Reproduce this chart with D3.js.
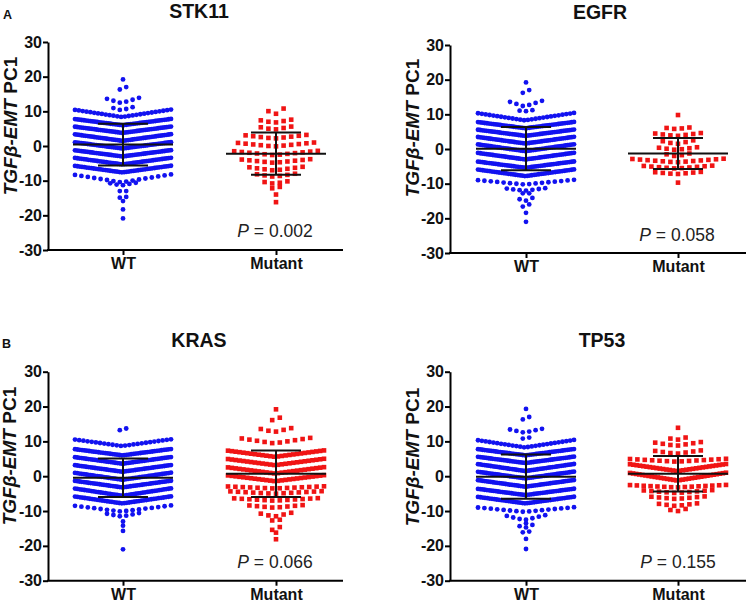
<!DOCTYPE html>
<html><head><meta charset="utf-8">
<script src="https://cdn.jsdelivr.net/npm/d3@7"></script>
<style>body{margin:0;background:#fff}svg{display:block}text{font-family:"Liberation Sans",Arial,sans-serif}</style>
</head><body><svg id="c" width="755" height="602"></svg>
<script>
// ---------- data ----------
const genes = ["STK11", "EGFR", "KRAS", "TP53"];
const groups = ["WT", "Mutant"];
const pValues = ["0.002", "0.058", "0.066", "0.155"];
const yTicks = [-30, -20, -10, 0, 10, 20, 30];
const panelLetters = ["A", "", "B", ""];
// mean and SD per gene: [WT, Mutant]
const means = [[0.4, -2.2], [0.1, -1.3], [-0.45, 0.7], [-0.15, 0.7]];
const sds = [[6.0, 6.1], [6.25, 4.5], [5.55, 6.7], [6.35, 5.1]];
// binned scatter rows: [lowest value (row centre), highest value (row edge), number of points]
const stk11WT = [[19.2,19.2,1],[16.3,17.0,2],[12.5,13.9,6],[10.4,11.2,4],[8.4,10.5,26],[6.0,7.8,44],[3.8,5.6,46],[1.5,3.4,46],[-0.7,1.1,46],[-3.0,-1.2,46],[-5.3,-3.4,44],[-7.6,-5.7,42],[-10.4,-8.2,16],[-11.3,-10.6,5],[-13.0,-13.0,2],[-14.9,-14.7,2],[-15.9,-15.9,1],[-18.3,-18.3,1],[-20.9,-20.9,1]];
const stk11Mut = [[9.3,10.8,3],[6.8,7.6,5],[4.8,5.6,5],[2.2,3.2,9],[-0.1,1.0,11],[-2.6,-1.4,12],[-4.8,-3.8,10],[-7.0,-6.0,8],[-8.8,-8.0,6],[-10.8,-10.2,4],[-12.2,-11.8,2],[-14.0,-14.0,1],[-16.2,-16.2,1]];
const egfrWT = [[19.2,19.2,1],[16.2,17.0,2],[12.4,13.9,6],[10.9,11.2,3],[8.3,10.4,26],[6.0,7.8,44],[3.8,5.6,46],[1.6,3.5,46],[-0.6,1.35,46],[-3.0,-1.1,46],[-5.4,-3.6,44],[-7.8,-5.9,42],[-10.2,-8.9,16],[-12.0,-11.3,7],[-12.8,-12.8,2],[-14.9,-14.1,3],[-16.6,-16.0,2],[-18.4,-18.4,1],[-21.0,-21.0,1]];
const egfrMut = [[9.8,9.8,1],[5.8,6.2,4],[3.8,4.6,7],[1.5,2.5,5],[-0.2,0.5,6],[-2.0,-1.3,4],[-3.8,-2.8,13],[-5.6,-4.8,10],[-7.2,-6.6,7],[-9.7,-9.7,1]];
const krasWT = [[13.2,13.7,2],[8.7,10.6,24],[6.0,7.8,42],[3.6,5.5,44],[1.3,3.2,44],[-1.0,1.0,44],[-3.2,-1.3,44],[-5.6,-3.5,42],[-7.8,-5.8,40],[-10.1,-8.4,16],[-11.5,-10.6,6],[-13.0,-13.0,1],[-14.2,-14.2,1],[-15.7,-15.7,1],[-21.0,-21.0,1]];
const krasMut = [[19.2,19.2,1],[16.1,16.8,2],[12.8,13.8,5],[9.5,11.0,10],[5.6,7.4,26],[3.2,5.0,26],[0.8,2.6,26],[-1.4,0.3,26],[-3.5,-2.9,14],[-5.0,-4.3,13],[-7.0,-6.3,12],[-9.0,-8.3,8],[-11.5,-10.5,5],[-12.7,-12.5,2],[-15.4,-14.6,2],[-16.2,-16.2,1],[-18.1,-18.1,1]];
const tp53WT = [[19.3,19.3,1],[16.3,17.0,2],[12.6,13.6,6],[10.8,11.1,2],[8.3,10.4,26],[6.0,7.8,44],[3.8,5.6,46],[1.5,3.5,46],[-0.6,1.3,46],[-3.0,-1.1,46],[-5.4,-3.6,44],[-7.8,-5.9,42],[-10.2,-8.9,16],[-12.5,-11.2,7],[-13.5,-13.5,1],[-14.7,-14.0,3],[-16.1,-15.9,2],[-18.0,-18.0,1],[-20.9,-20.9,1]];
const tp53Mut = [[13.9,13.9,1],[10.5,11.1,3],[8.8,9.8,7],[6.5,7.4,7],[4.2,5.0,14],[1.5,3.5,30],[-1.2,1.0,32],[-3.2,-2.5,15],[-4.8,-4.0,10],[-6.5,-5.8,8],[-8.5,-7.8,6],[-10.0,-9.4,3]];
const rowsByGene = [[stk11WT, stk11Mut], [egfrWT, egfrMut], [krasWT, krasMut], [tp53WT, tp53Mut]];

// ---------- layout (positions only) ----------
const layout = [
  {ax:48,  yTop:42,    yBot:250,   xEnd:343, cx:[123,276], title:[199,18],  ylab:[17,126],  p:[275,237], letter:[3,19]},
  {ax:450, yTop:45,    yBot:253,   xEnd:746, cx:[526,678], title:[600,19],  ylab:[419,128], p:[677,241], letter:null},
  {ax:48,  yTop:371.7, yBot:580.7, xEnd:343, cx:[123,276], title:[199,347], ylab:[16,456],  p:[275,568], letter:[2,348]},
  {ax:450, yTop:371.7, yBot:580.7, xEnd:746, cx:[526,678], title:[602,347], ylab:[419,457], p:[678,568], letter:null}
];
const BLUE = "#1212f0", RED = "#f01414";
const svg = d3.select("#c");
svg.append("rect").attr("width",755).attr("height",602).attr("fill","#fff");

function placeRow(row, step, maxHalf) {
  const [lo, hi, n] = row;
  const s = n > 1 ? Math.min(step, 2 * maxHalf / (n - 1)) : 0;
  const pts = [];
  for (let i = 0; i < n; i++) {
    const v = n > 1 ? lo + (hi - lo) * i / (n - 1) : lo;
    let k;
    if (n % 2 === 1) { k = i === 0 ? 0 : Math.ceil(i / 2) * (i % 2 === 1 ? -1 : 1); }
    else { k = (Math.floor(i / 2) + 0.5) * (i % 2 === 0 ? -1 : 1); }
    pts.push({v, dx: k * s});
  }
  return pts;
}

genes.forEach((gene, gi) => {
  const L = layout[gi];
  const g = svg.append("g");
  const y = d3.scaleLinear().domain([-30, 30]).range([L.yBot, L.yTop]);
  const x = d3.scalePoint().domain(groups).range(L.cx);

  // points
  groups.forEach((grp, k) => {
    const isWT = k === 0;
    const pts = rowsByGene[gi][k].flatMap(r => placeRow(r, isWT ? 6.4 : 7.6, 48));
    const cx = x(grp);
    if (isWT) {
      g.append("g").selectAll("circle").data(pts).join("circle")
        .attr("cx", d => cx + d.dx).attr("cy", d => y(d.v)).attr("r", 2.4).attr("fill", BLUE);
    } else {
      g.append("g").selectAll("rect").data(pts).join("rect")
        .attr("x", d => cx + d.dx - 2.3).attr("y", d => y(d.v) - 2.3)
        .attr("width", 4.6).attr("height", 4.6).attr("fill", RED);
    }
    // mean and SD
    const m = means[gi][k], sd = sds[gi][k];
    const bars = g.append("g").attr("stroke", "#111").attr("stroke-width", 2);
    bars.append("line").attr("x1", cx - 50).attr("x2", cx + 50).attr("y1", y(m)).attr("y2", y(m));
    bars.append("line").attr("x1", cx).attr("x2", cx).attr("y1", y(m + sd)).attr("y2", y(m - sd));
    [m + sd, m - sd].forEach(v => bars.append("line").attr("x1", cx - 25).attr("x2", cx + 25).attr("y1", y(v)).attr("y2", y(v)));
  });

  // y axis
  const ya = g.append("g").attr("transform", `translate(${L.ax},0)`)
    .call(d3.axisLeft(y).tickValues(yTicks).tickFormat(d => String(d)).tickSize(5).tickSizeOuter(0).tickPadding(1));
  ya.select(".domain").attr("stroke-width", 2);
  ya.selectAll(".tick line").attr("stroke-width", 2);
  ya.selectAll("text").attr("font-size", 16).attr("font-weight", "bold").attr("fill", "#111")
    .attr("font-family", '"Liberation Sans",Arial,sans-serif');

  // x axis
  g.append("line").attr("x1", L.ax - 1).attr("x2", L.xEnd).attr("y1", L.yBot).attr("y2", L.yBot)
    .attr("stroke", "#000").attr("stroke-width", 2);
  const xa = g.append("g").attr("transform", `translate(0,${L.yBot})`)
    .call(d3.axisBottom(x).tickSize(5).tickPadding(3));
  xa.select(".domain").remove();
  xa.selectAll(".tick line").attr("stroke-width", 2);
  xa.selectAll("text").attr("font-size", 16).attr("font-weight", "bold").attr("fill", "#111")
    .attr("font-family", '"Liberation Sans",Arial,sans-serif');

  // title
  g.append("text").attr("x", L.title[0]).attr("y", L.title[1]).attr("text-anchor", "middle")
    .attr("font-size", 19.5).attr("font-weight", "bold").attr("fill", "#111").text(gene);

  // y label
  const yl = g.append("text").attr("transform", `translate(${L.ylab[0]},${L.ylab[1]}) rotate(-90)`)
    .attr("text-anchor", "middle").attr("font-size", 19).attr("font-weight", "bold").attr("fill", "#111");
  yl.append("tspan").attr("font-style", "italic").text("TGFβ-EMT");
  yl.append("tspan").text(" PC1");

  // p value
  const pt = g.append("text").attr("x", L.p[0]).attr("y", L.p[1]).attr("text-anchor", "middle")
    .attr("font-size", 17.5).attr("fill", "#222");
  pt.append("tspan").attr("font-style", "italic").text("P");
  pt.append("tspan").text(" = " + pValues[gi]);

  if (L.letter && panelLetters[gi]) {
    g.append("text").attr("x", L.letter[0]).attr("y", L.letter[1]).attr("font-size", 12.5)
      .attr("font-weight", "bold").attr("fill", "#111").text(panelLetters[gi]);
  }
});
</script></body></html>
